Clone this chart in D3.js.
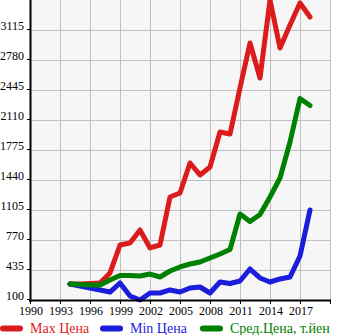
<!DOCTYPE html>
<html><head><meta charset="utf-8">
<script src="https://cdn.jsdelivr.net/npm/d3@7"></script>
<style>body{margin:0;background:#fff}svg{display:block}</style>
</head><body>
<script>
const years = [1994,1995,1996,1997,1998,1999,2000,2001,2002,2003,2004,2005,2006,2007,2008,2009,2010,2011,2012,2013,2014,2015,2016,2017,2018];
const maxPrice = [279,279,284,290,402,714,737,882,681,714,1250,1295,1630,1496,1585,1976,1954,2467,2970,2579,3450,2914,3171,3417,3260];
const minPrice = [279,256,234,212,189,290,145,100,178,178,212,189,234,245,178,301,284,312,446,346,301,335,357,591,1105];
const avgPrice = [279,273,268,268,323,374,374,368,390,357,424,469,502,524,569,614,664,1060,977,1055,1250,1462,1864,2350,2272];
const yTicks = [100,435,770,1105,1440,1775,2110,2445,2780,3115];
const xTicks = [1990,1993,1996,1999,2002,2005,2008,2011,2014,2017];
const seriesNames = ["Max Цена","Min Цена","Сред.Цена, т.йен"];
const seriesColors = ["#dc1c1c","#1c1cdc","#008000"];

const W = 345, H = 335;
const svg = d3.select("body").append("svg").attr("width", W).attr("height", H);
const x = d3.scaleLinear().domain([1990, 2020]).range([30, 330]);
const y = d3.scaleLinear().domain([100, 3450]).range([300, 0]);
const font = "'Liberation Serif', 'Times New Roman', serif";

svg.append("rect").attr("x", 30).attr("y", 0).attr("width", 300).attr("height", 300).attr("fill", "#f6f6f6");

const g = svg.append("g");
g.selectAll("line.vg").data(xTicks.concat([2020]).filter(d => d > 1990)).join("line")
  .attr("x1", d => x(d)).attr("x2", d => x(d)).attr("y1", 0).attr("y2", 300)
  .attr("stroke", "#c0c0c0").attr("stroke-width", 1).attr("shape-rendering", "crispEdges");
g.selectAll("line.hg").data(yTicks.filter(d => d > 100)).join("line")
  .attr("x1", 30).attr("x2", 330).attr("y1", d => y(d)).attr("y2", d => y(d))
  .attr("stroke", "#c0c0c0").attr("stroke-width", 1).attr("shape-rendering", "crispEdges");

// y labels and ticks
svg.selectAll("text.yl").data(yTicks).join("text")
  .attr("x", 24).attr("y", d => y(d)).attr("text-anchor", "end")
  .attr("font-family", font).attr("font-size", 12).attr("fill", "#000").text(d => d);
svg.selectAll("line.yt").data(yTicks).join("line")
  .attr("x1", 27).attr("x2", 30).attr("y1", d => y(d) - 0.5).attr("y2", d => y(d) - 0.5)
  .attr("stroke", "#000").attr("stroke-width", 1);

// x labels and ticks
svg.selectAll("text.xl").data(xTicks).join("text")
  .attr("x", d => x(d) + 1).attr("y", 315).attr("text-anchor", "middle")
  .attr("font-family", font).attr("font-size", 12).attr("fill", "#000").text(d => d);
svg.selectAll("line.xt").data(xTicks.concat([2020])).join("line")
  .attr("x1", d => x(d) + 0.5).attr("x2", d => x(d) + 0.5).attr("y1", 300).attr("y2", 304)
  .attr("stroke", "#000").attr("stroke-width", 1);

// lines
const line = d3.line().x(d => x(d[0])).y(d => y(d[1]));
[maxPrice, minPrice, avgPrice].forEach((vals, i) => {
  svg.append("path").datum(years.map((yr, j) => [yr, vals[j]]))
    .attr("d", line).attr("fill", "none").attr("stroke", seriesColors[i])
    .attr("stroke-width", 5).attr("stroke-linejoin", "round").attr("stroke-linecap", "round");
});

// axes
svg.append("line").attr("x1", 30.5).attr("x2", 30.5).attr("y1", 0).attr("y2", 302).attr("stroke", "#000").attr("stroke-width", 2);
svg.append("line").attr("x1", 29).attr("x2", 331).attr("y1", 300.5).attr("y2", 300.5).attr("stroke", "#000").attr("stroke-width", 2);

// legend
const legX = [0, 100, 200];
const lg = svg.selectAll("g.leg").data(seriesNames).join("g").attr("transform", (d, i) => `translate(${legX[i]},0)`);
lg.append("line").attr("x1", 3).attr("x2", 20).attr("y1", 328.5).attr("y2", 328.5)
  .attr("stroke", (d, i) => seriesColors[i]).attr("stroke-width", 6).attr("stroke-linecap", "round");
lg.append("text").attr("x", 30).attr("y", 333).attr("font-family", font).attr("font-size", 14)
  .attr("fill", (d, i) => seriesColors[i]).text(d => d);
</script>
</body></html>
